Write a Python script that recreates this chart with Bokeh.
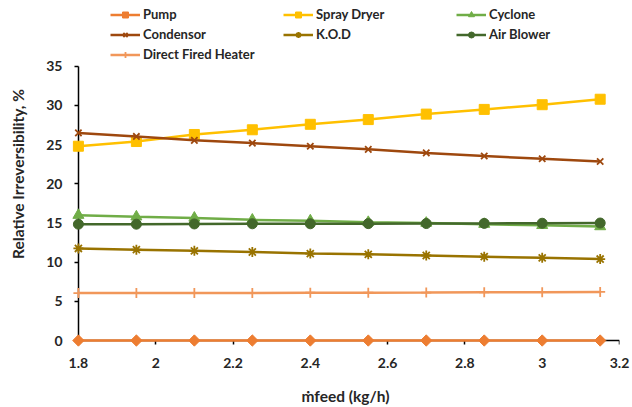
import math
from bokeh.plotting import figure
from bokeh.models import Legend, LegendItem, FixedTicker, Range1d, LinearAxis
from bokeh.embed import file_html
from bokeh.resources import INLINE

x_feed = [1.8, 1.95, 2.1, 2.25, 2.4, 2.55, 2.7, 2.85, 3.0, 3.15]

pump = [0, 0, 0, 0, 0, 0, 0, 0, 0, 0]
spray_dryer = [24.8, 25.4, 26.3, 26.9, 27.6, 28.2, 28.9, 29.5, 30.1, 30.8]
cyclone = [16.0, 15.8, 15.65, 15.4, 15.3, 15.1, 15.0, 14.85, 14.7, 14.55]
condensor = [26.5, 26.05, 25.55, 25.2, 24.8, 24.4, 23.95, 23.55, 23.2, 22.85]
kod = [11.75, 11.6, 11.45, 11.3, 11.1, 11.0, 10.85, 10.7, 10.55, 10.4]
air_blower = [14.85, 14.85, 14.88, 14.9, 14.9, 14.92, 14.93, 14.95, 14.97, 15.0]
direct_fired_heater = [6.05, 6.05, 6.07, 6.08, 6.1, 6.1, 6.12, 6.15, 6.17, 6.2]

series_names = ["Pump", "Spray Dryer", "Cyclone", "Condensor", "K.O.D", "Air Blower", "Direct Fired Heater"]
series_values = [pump, spray_dryer, cyclone, condensor, kod, air_blower, direct_fired_heater]
series_colors = ["#ED7D31", "#FFC000", "#70AD47", "#9E480E", "#997300", "#43682B", "#F1975A"]
series_markers = ["square", "square", "triangle", "x", "asterisk", "circle", "cross"]
marker_angles = [math.pi / 4, 0, 0, 0, 0, 0, 0]
marker_sizes = [8, 10, 11, 9, 10, 10, 10]

x_ticks = [1.8, 2.0, 2.2, 2.4, 2.6, 2.8, 3.0, 3.2]
x_tick_labels = ["1.8", "2", "2.2", "2.4", "2.6", "2.8", "3", "3.2"]
y_ticks = [0, 5, 10, 15, 20, 25, 30, 35]
x_axis_bounds = (1.8, 3.2)
y_axis_bounds = (0, 35)

FONT = "Lato"
TXT = "#262626"

# Frame covers the whole height (legend lives inside it) and a little margin
# left of / below the axes so edge markers are not clipped.
XPX = 386.5   # px per x unit
YPX = 7.857   # px per y unit
p = figure(width=632, height=407, output_backend="svg", toolbar_location=None,
           x_range=Range1d(3.2 - 548 / XPX, 3.2),
           y_range=Range1d(-7 / YPX, -7 / YPX + 348 / YPX),
           min_border_left=71, min_border_right=13, min_border_bottom=59, min_border_top=0)
p.outline_line_color = None
p.xgrid.grid_line_color = None
p.ygrid.grid_line_color = None

items = []
for name, vals, col, mk, ang, ms in zip(series_names, series_values, series_colors,
                                         series_markers, marker_angles, marker_sizes):
    r1 = p.line(x_feed, vals, line_color=col, line_width=2.5, level="overlay")
    lw = 1.8 if mk in ("x", "asterisk", "cross") else 1
    r2 = p.scatter(x_feed, vals, marker=mk, angle=ang, size=ms, fill_color=col,
                   line_color=col, line_width=lw, level="overlay")
    items.append(LegendItem(label=name, renderers=[r1, r2]))

legend = Legend(items=items, ncols=3, orientation="horizontal", location=(39, 285))
legend.label_text_font = FONT
legend.label_text_font_style = "bold"
legend.label_text_font_size = "13px"
legend.label_text_color = TXT
legend.glyph_width = 30
legend.glyph_height = 15
legend.label_height = 15
legend.label_width = 136
legend.label_standoff = 3
legend.spacing = 4
legend.padding = 0
legend.margin = 0
legend.border_line_color = None
legend.background_fill_alpha = 0
p.add_layout(legend)

# axis lines and ticks, drawn at x=1.8 / y=0
for ax in (p.xaxis[0], p.yaxis[0]):
    ax.axis_line_color = "black"
    ax.axis_line_width = 1.5
    ax.major_tick_line_color = "black"
    ax.major_tick_line_width = 1.5
    ax.major_tick_out = 4
    ax.major_tick_in = 0
    ax.minor_tick_line_color = None
    ax.major_label_text_alpha = 0
p.xaxis[0].ticker = FixedTicker(ticks=x_ticks)
p.yaxis[0].ticker = FixedTicker(ticks=y_ticks)
p.xaxis[0].bounds = x_axis_bounds
p.yaxis[0].bounds = y_axis_bounds
p.xaxis[0].fixed_location = 0
p.yaxis[0].fixed_location = 1.8

# label-only axes at the frame edges
xlab = LinearAxis(ticker=FixedTicker(ticks=x_ticks), axis_label="\u1e41feed (kg/h)")
ylab = LinearAxis(ticker=FixedTicker(ticks=y_ticks), axis_label="Relative Irreversibility, %")
xlab.major_label_overrides = {t: l for t, l in zip(x_ticks, x_tick_labels)}
for ax in (xlab, ylab):
    ax.axis_line_color = None
    ax.major_tick_line_color = None
    ax.minor_tick_line_color = None
    ax.major_tick_out = 0
    ax.major_tick_in = 0
    ax.major_label_text_font = FONT
    ax.major_label_text_font_style = "bold"
    ax.major_label_text_font_size = "14px"
    ax.major_label_text_color = TXT
    ax.axis_label_text_font = FONT
    ax.axis_label_text_font_style = "bold"
    ax.axis_label_text_font_size = "15.5px"
    ax.axis_label_text_color = TXT
xlab.major_label_standoff = 10
ylab.major_label_standoff = 9
xlab.axis_label_standoff = 16
ylab.axis_label_standoff = 16
p.add_layout(xlab, "below")
p.add_layout(ylab, "left")

open("out.html", "w").write(file_html(p, INLINE))
